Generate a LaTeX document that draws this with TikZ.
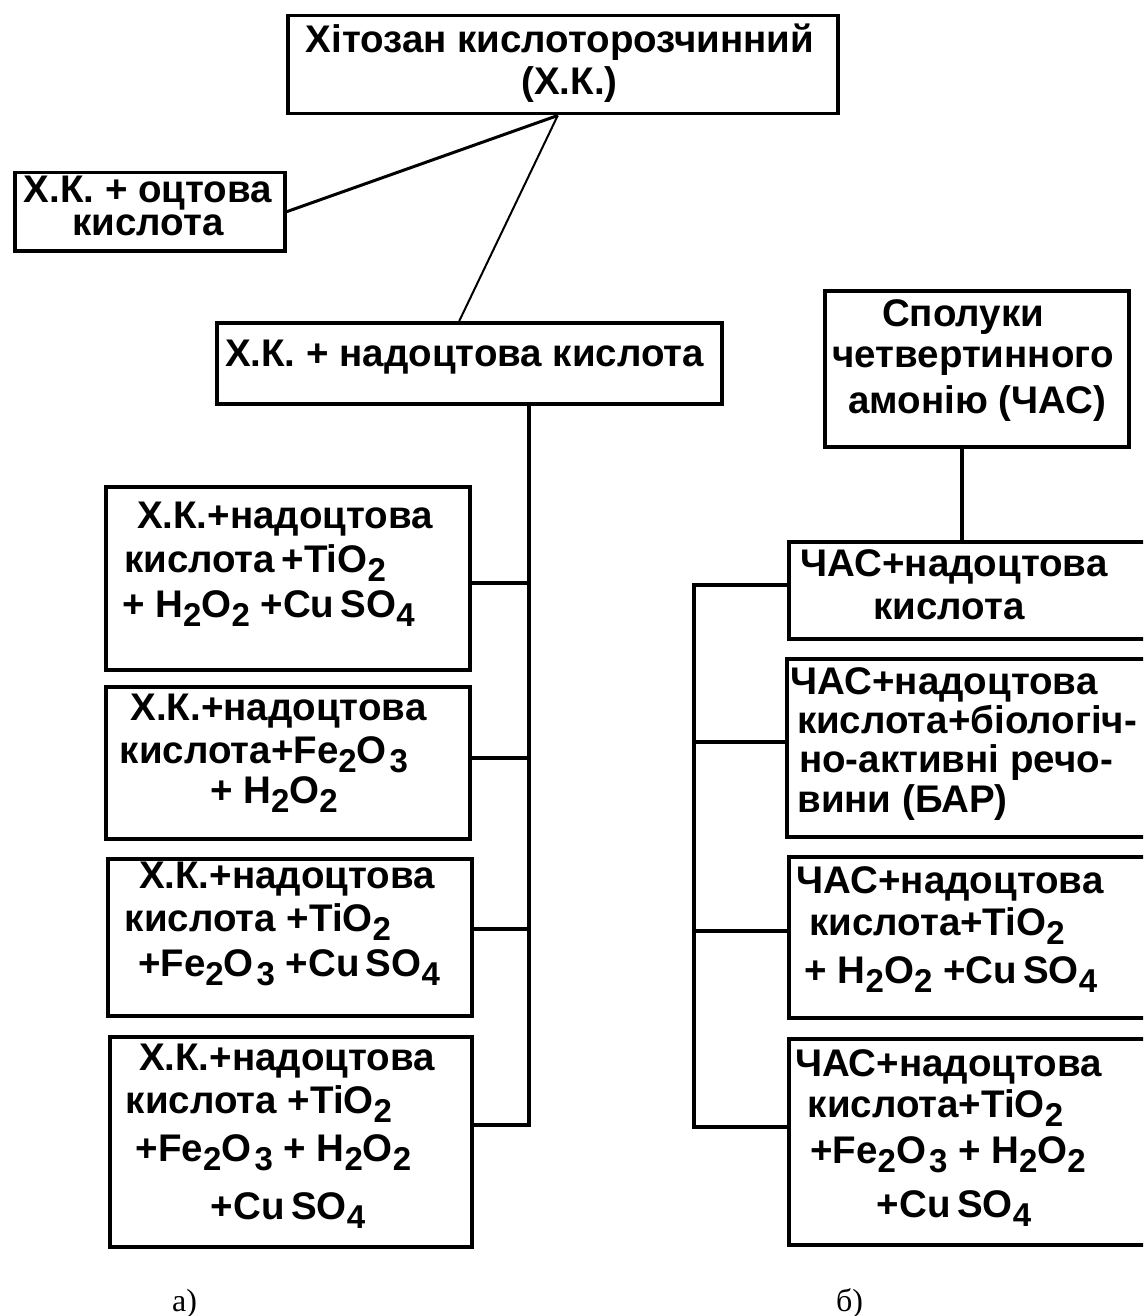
\documentclass[tikz,border=0pt]{standalone}
\usepackage{fontspec}
\setmainfont{Liberation Sans}
\newfontfamily\captionserif{Liberation Serif}
\newcommand\chsub[1]{\raisebox{-9pt}{\fontsize{33}{33}\selectfont\bfseries #1}}
\begin{document}
\begin{tikzpicture}[x=1pt,y=-1pt,
  box/.style={draw, line width=3.5pt, inner sep=0pt, anchor=north west},
  txt/.style={font=\fontsize{38.5}{44}\selectfont\bfseries, inner sep=0pt, anchor=base},
  link/.style={line width=3.5pt},
  capt/.style={font=\fontsize{32}{36}\selectfont\captionserif, inner sep=0pt, anchor=base}]
\useasboundingbox (0,0) rectangle (1143,1316);
\clip (0,0) rectangle (1143,1316);

% ---------- left tree: acid-soluble chitosan ----------
\node[box, minimum width=550, minimum height=98] (top) at (286,14) {};
\node[box, minimum width=270, minimum height=78] (ocb) at (13,171) {};
\node[box, minimum width=505, minimum height=81] (nad) at (215,321) {};
\node[box, minimum width=364, minimum height=183] (L1) at (104,485) {};
\node[box, minimum width=364, minimum height=152] (L2) at (104,685) {};
\node[box, minimum width=364, minimum height=157] (L3) at (106,857) {};
\node[box, minimum width=362, minimum height=210] (L4) at (108,1035) {};

\node[txt] (t1) at (560,53) {Хітозан кислоторозчинний};
\node[txt] (t2) at (569.5,95) {(Х.К.)};
\node[txt, font=\fontsize{38.5}{33}\selectfont\bfseries, align=center, anchor=north]
  (o1) at (148,176) {Х.К. + оцтова\\кислота};
\node[txt] (n1) at (464.5,366) {Х.К. + надоцтова кислота};

\node[txt] (l11) at (285,528) {Х.К.+надоцтова};
\node[txt] (l12) at (255,572) {кислота\,+TiO\chsub{2}};
\node[txt] (l13) at (268.5,617) {+ H\chsub{2}O\chsub{2} +Cu\,SO\chsub{4}};

\node[txt] (l21) at (278.5,720) {Х.К.+надоцтова};
\node[txt] (l22) at (264,763) {кислота+Fe\chsub{2}O\kern3pt\chsub{3}};
\node[txt] (l23) at (274,803) {+ H\chsub{2}O\chsub{2}};

\node[txt] (l31) at (287,888) {Х.К.+надоцтова};
\node[txt] (l32) at (258,931) {кислота +TiO\chsub{2}};
\node[txt] (l33) at (289,976) {+Fe\chsub{2}O\kern3pt\chsub{3} +Cu\,SO\chsub{4}};

\node[txt] (l41) at (287,1070) {Х.К.+надоцтова};
\node[txt] (l42) at (259,1113) {кислота +TiO\chsub{2}};
\node[txt] (l43) at (273.5,1161) {+Fe\chsub{2}O\kern3pt\chsub{3} + H\chsub{2}O\chsub{2}};
\node[txt] (l44) at (288,1219) {+Cu\,SO\chsub{4}};

\draw[line width=3pt] ([xshift=-5pt]top.south) -- (ocb.east);
\draw[line width=2pt] ([xshift=-5pt]top.south) -- ([xshift=-10pt]nad.north);

\coordinate (j1) at (529,583);
\coordinate (j2) at (529,758);
\coordinate (j3) at (529,929);
\coordinate (j4) at (529,1125);
\draw[link] (nad.south -| j1) -- (j4) -- (L4.east |- j4);
\draw[link] (L1.east |- j1) -- (j1);
\draw[link] (L2.east |- j2) -- (j2);
\draw[link] (L3.east |- j3) -- (j3);

% ---------- right tree: quaternary ammonium compounds ----------
\node[box, minimum width=304, minimum height=156] (cas) at (823,289) {};
\node[box, minimum width=378, minimum height=97] (R1) at (787,540) {};
\node[box, minimum width=380, minimum height=178] (R2) at (785,657) {};
\node[box, minimum width=378, minimum height=161] (R3) at (787,855) {};
\node[box, minimum width=378, minimum height=206] (R4) at (787,1037) {};

\node[txt] (c1) at (963,326) {Сполуки};
\node[txt] (c2) at (973,367.5) {четвертинного};
\node[txt] (c3) at (977,413) {амонію (ЧАС)};

\node[txt] (r11) at (954,576) {ЧАС+надоцтова};
\node[txt] (r12) at (949,619) {кислота};

\node[txt] (r21) at (944,694) {ЧАС+надоцтова};
\node[txt] (r22) at (967,733) {кислота+біологіч-};
\node[txt] (r23) at (956,772) {но-активні речо-};
\node[txt] (r24) at (902.5,812) {вини (БАР)};

\node[txt] (r31) at (950,893) {ЧАС+надоцтова};
\node[txt] (r32) at (937,935) {кислота+TiO\chsub{2}};
\node[txt] (r33) at (951,983) {+ H\chsub{2}O\chsub{2} +Cu\,SO\chsub{4}};

\node[txt] (r41) at (948.5,1076) {ЧАС+надоцтова};
\node[txt] (r42) at (935.5,1117) {кислота+TiO\chsub{2}};
\node[txt] (r43) at (948,1163) {+Fe\chsub{2}O\kern3pt\chsub{3} + H\chsub{2}O\chsub{2}};
\node[txt] (r44) at (954,1217) {+Cu\,SO\chsub{4}};

\coordinate (cdrop) at (962,445);
\draw[link] (cdrop |- cas.south) -- (cdrop |- R1.north);

\coordinate (k1) at (694,585);
\coordinate (k2) at (694,742);
\coordinate (k3) at (694,931);
\coordinate (k4) at (694,1127);
\draw[link] (R1.west |- k1) -- (k1) -- (k4) -- (R4.west |- k4);
\draw[link] (R2.west |- k2) -- (k2);
\draw[link] (R3.west |- k3) -- (k3);

% ---------- captions ----------
\node[capt] (capa) at (184.5,1311) {а)};
\node[capt] (capb) at (849.5,1311) {б)};
\end{tikzpicture}
\end{document}
